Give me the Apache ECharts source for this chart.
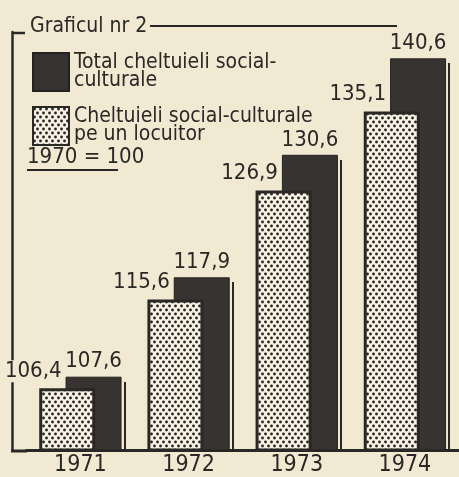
<!DOCTYPE html>
<html>
<head>
<meta charset="utf-8">
<style>
  html, body { margin: 0; padding: 0; background: #f2e9d3; }
  #chart { width: 459px; height: 477px; }
</style>
<script src="https://cdn.jsdelivr.net/npm/echarts@6/dist/echarts.min.js"></script>
</head>
<body>
<div id="chart"></div>
<script>
// ---- data ----
var years = ['1971', '1972', '1973', '1974'];
var totalValues = [107.6, 117.9, 130.6, 140.6];      // Total cheltuieli social-culturale
var perCapitaValues = [106.4, 115.6, 126.9, 135.1];  // Cheltuieli social-culturale pe un locuitor
var baseValue = 100;                                  // 1970 = 100

var totalName = 'Total cheltuieli social-culturale';
var perCapitaName = 'Cheltuieli social-culturale pe un locuitor';
var legendText = {};
legendText[totalName] = 'Total cheltuieli social-\nculturale';
legendText[perCapitaName] = 'Cheltuieli social-culturale\npe un locuitor';

var paper = '#f2e9d3';
var ink = '#2a2826';
var darkFill = '#363331';
var FONT = '"Liberation Sans Narrow", "DejaVu Sans Condensed", sans-serif';

// dotted pattern (staggered dots)
var pc = document.createElement('canvas');
pc.width = 6; pc.height = 8;
var g = pc.getContext('2d');
g.fillStyle = '#f7f2e4';
g.fillRect(0, 0, 6, 8);
g.fillStyle = ink;
[[1.5, 2], [4.5, 6]].forEach(function (d) {
  g.beginPath(); g.arc(d[0], d[1], 1.45, 0, Math.PI * 2); g.fill();
});

function fmt(p) { return String(p.value).replace('.', ','); }

var chart = echarts.init(document.getElementById('chart'), null, { renderer: 'canvas' });
chart.setOption({
  backgroundColor: paper,
  animation: false,
  title: {
    text: 'Graficul nr 2',
    left: 25, top: 11,
    textStyle: { fontFamily: FONT, fontSize: 21, fontWeight: 'normal', color: ink }
  },
  legend: {
    orient: 'vertical',
    left: 27, top: 47,
    icon: 'rect',
    itemWidth: 36, itemHeight: 38, itemGap: 14,
    data: [totalName, perCapitaName],
    formatter: function (n) { return legendText[n]; },
    textStyle: { fontFamily: FONT, fontSize: 21, lineHeight: 18, color: ink },
    selectedMode: false
  },
  grid: { left: 26.3, right: -10.5, top: 32, bottom: 26 },
  xAxis: {
    type: 'category',
    data: years,
    axisLine: { lineStyle: { color: ink, width: 3 } },
    axisTick: { show: false },
    axisLabel: { fontFamily: FONT, fontSize: 23, color: ink, margin: 4, interval: 0 }
  },
  yAxis: {
    type: 'value',
    min: baseValue, max: 143.33,
    offset: 14,
    axisLine: { show: true, lineStyle: { color: ink, width: 2.5 } },
    axisTick: { show: false },
    axisLabel: { show: false },
    splitLine: { show: false }
  },
  series: [
    {
      name: perCapitaName,
      type: 'bar',
      data: perCapitaValues,
      barWidth: 56,
      barGap: '-53%',
      z: 3,
      itemStyle: { color: { image: pc, repeat: 'repeat' }, borderColor: ink, borderWidth: 3 },
      label: {
        show: true, position: 'top', distance: 6, offset: [-34, 0],
        formatter: fmt,
        fontFamily: FONT, fontSize: 22, color: ink,
        backgroundColor: paper, padding: [0, 1]
      }
    },
    {
      name: totalName,
      type: 'bar',
      data: totalValues,
      barWidth: 56,
      z: 2,
      itemStyle: { color: darkFill, borderColor: '#242220', borderWidth: 1 },
      label: {
        show: true, position: 'top', distance: 4,
        formatter: fmt,
        fontFamily: FONT, fontSize: 22, color: ink
      }
    },
    {
      name: 'shadow',
      type: 'custom',
      silent: true,
      z: 1,
      data: totalValues.map(function (v, i) { return [i, v]; }),
      encode: { x: 0, y: 1 },
      renderItem: function (params, api) {
        var top = api.coord([api.value(0), api.value(1)]);
        var base = api.coord([api.value(0), baseValue]);
        var bw = api.size([1, 0])[0];
        var x = Math.round(top[0] + bw * 0.40);
        return {
          type: 'rect',
          shape: { x: x, y: Math.round(top[1] + 5), width: 2, height: Math.round(base[1] - top[1] - 5) },
          style: { fill: ink }
        };
      }
    }
  ],
  graphic: [
    { type: 'polyline', shape: { points: [[12, 33], [25, 33]] }, style: { stroke: ink, lineWidth: 2.5 } },
    { type: 'line', shape: { x1: 150, y1: 26, x2: 397, y2: 26 }, style: { stroke: ink, lineWidth: 2 } },
    { type: 'line', shape: { x1: 11, y1: 451, x2: 27, y2: 451 }, style: { stroke: ink, lineWidth: 3 } },
    {
      type: 'text', left: 27, top: 146,
      style: { text: '1970 = 100', fontFamily: FONT, fontSize: 22, fill: ink }
    },
    { type: 'line', shape: { x1: 27, y1: 170, x2: 118, y2: 170 }, style: { stroke: ink, lineWidth: 2 } }
  ]
});
</script>
</body>
</html>
